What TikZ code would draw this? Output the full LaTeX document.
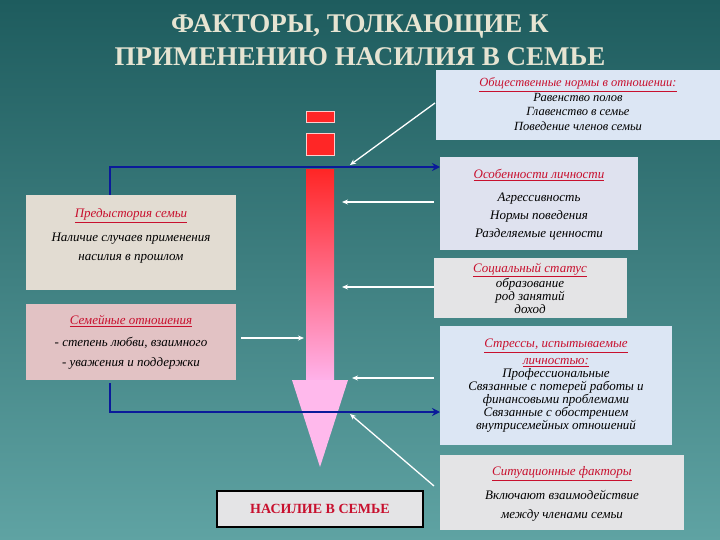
\documentclass[tikz,border=0pt]{standalone}
\usepackage{fontspec}
\setmainfont{Liberation Serif}
\usetikzlibrary{arrows.meta}
\definecolor{bgtop}{HTML}{1E5C5E}
\definecolor{bgbot}{HTML}{5FA3A3}
\definecolor{ttl}{HTML}{E6E4D2}
\definecolor{hd}{HTML}{C8102E}
\definecolor{navy}{HTML}{0A1A9A}
\definecolor{lblue}{HTML}{DCE6F4}
\definecolor{beige}{HTML}{E2DCD2}
\definecolor{pinkb}{HTML}{E2C2C4}
\definecolor{marble}{HTML}{E4E4E6}
\tikzset{
 blue/.style={navy, line width=2.4pt},
 wh/.style={white, line width=1.3pt, -{Stealth[length=6pt,width=5pt]}},
 txt/.style={align=center, text=black}
}
\newcommand{\hdt}[1]{{\color{hd}\underline{#1}}}
\begin{document}
\begin{tikzpicture}[x=1pt,y=-1pt]
\useasboundingbox (0,0) rectangle (720,540);
\shade[top color=bgtop, bottom color=bgbot] (0,0) rectangle (720,540);
\node[text=ttl, font=\bfseries\fontsize{27}{33}\selectfont, align=center] (title) at (360,40) {ФАКТОРЫ, ТОЛКАЮЩИЕ К\\ПРИМЕНЕНИЮ НАСИЛИЯ В СЕМЬЕ};
% boxes
\fill[lblue] (436,70) rectangle (720,140);
\node[txt, font=\itshape\fontsize{12.5}{14.5}\selectfont] (t1) at (578,104) {\hdt{Общественные нормы в отношении:}\\Равенство полов\\Главенство в семье\\Поведение членов семьи};
\fill[lblue!90!pink] (440,157) rectangle (638,250);
\node[txt, font=\itshape\fontsize{13}{18}\selectfont] (t2) at (539,205) {\hdt{Особенности личности}\\[5pt]Агрессивность\\Нормы поведения\\Разделяемые ценности};
\fill[marble] (434,258) rectangle (627,318);
\node[txt, font=\itshape\fontsize{13}{11.5}\selectfont] (t3) at (530,288) {\hdt{Социальный статус}\\образование\\род занятий\\доход};
\fill[lblue] (440,326) rectangle (672,445);
\node[txt, font=\itshape\fontsize{13}{13}\selectfont] (t4) at (556,386) {\hdt{Стрессы, испытываемые}\\[4pt]\hdt{личностью:}\\Профессиональные\\Связанные с потерей работы и\\финансовыми проблемами\\Связанные с обострением\\внутрисемейных отношений};
\fill[marble] (440,455) rectangle (684,530);
\node[txt, font=\itshape\fontsize{13}{19}\selectfont] (t5) at (562,494) {\hdt{Ситуационные факторы}\\[5pt]Включают взаимодействие\\между членами семьи};
\fill[beige] (26,195) rectangle (236,290);
\node[txt, font=\itshape\fontsize{13}{19}\selectfont] (t6) at (131,236) {\hdt{Предыстория семьи}\\[5pt]Наличие случаев применения\\насилия в прошлом};
\fill[pinkb] (26,304) rectangle (236,380);
\node[txt, font=\itshape\fontsize{13}{20}\selectfont] (t7) at (131,342) {\hdt{Семейные отношения}\\[2pt]- степень любви, взаимного\\- уважения и поддержки};
% central arrow
\fill[red!85!white, draw=white!80!red] (306,111) rectangle (334,122);
\fill[red!85!white, draw=white!80!red] (306,133) rectangle (334,155);
\shade[top color=red!85!white, bottom color=pink!60!magenta!55!white] (306,170) rectangle (334,380);
\fill[pink!60!magenta!50!white] (292,380) -- (348,380) -- (320,467) -- cycle;
\node[draw=black, line width=2.5pt, fill=marble, minimum width=206pt, minimum height=36pt, text=hd, font=\bfseries\fontsize{14}{16}\selectfont] (nas) at (320,509) {НАСИЛИЕ В СЕМЬЕ};
% blue lines
\coordinate (u0) at (110,195); \coordinate (u1) at (110,167); \coordinate (u2) at (440,167);
\draw[blue, -{Stealth[length=8pt,width=8pt]}] (u0) -- (u1) -- (u2);
\coordinate (l0) at (110,383); \coordinate (l1) at (110,412); \coordinate (l2) at (440,412);
\draw[blue, -{Stealth[length=8pt,width=8pt]}] (l0) -- (l1) -- (l2);
% white arrows
\coordinate (a1) at (435,103); \coordinate (a1e) at (350,165);
\draw[wh] (a1) -- (a1e);
\coordinate (a2) at (434,202); \coordinate (a2e) at (342,202);
\draw[wh] (a2) -- (a2e);
\coordinate (a3) at (434,287); \coordinate (a3e) at (342,287);
\draw[wh] (a3) -- (a3e);
\coordinate (a4) at (434,378); \coordinate (a4e) at (352,378);
\draw[wh] (a4) -- (a4e);
\coordinate (a5) at (434,486); \coordinate (a5e) at (350,414);
\draw[wh] (a5) -- (a5e);
\coordinate (a6) at (241,338); \coordinate (a6e) at (304,338);
\draw[wh] (a6) -- (a6e);
\end{tikzpicture}
\end{document}
